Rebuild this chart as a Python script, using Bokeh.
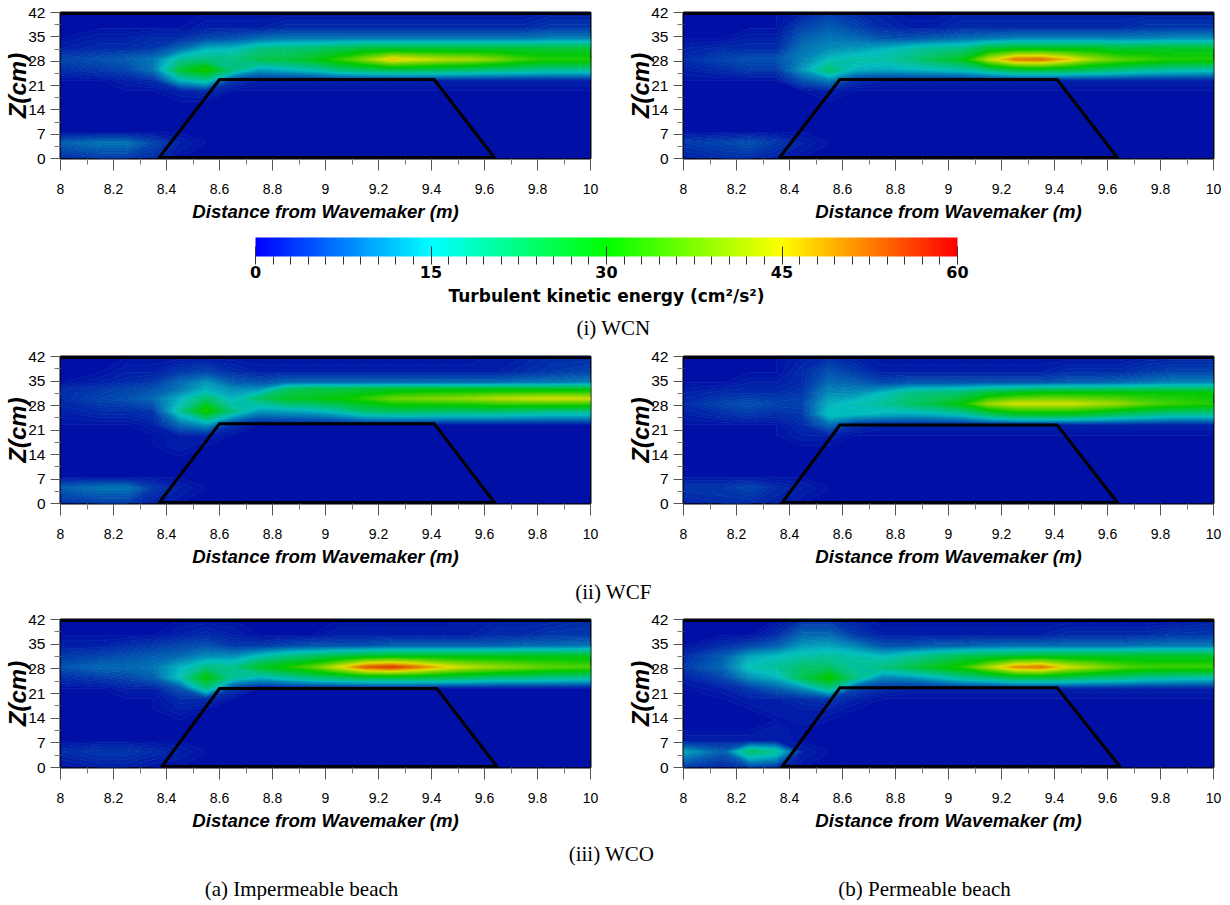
import numpy as np
from bokeh.core.properties import value
from bokeh.embed import file_html
from bokeh.layouts import column, row
from bokeh.models import ColorBar, ColumnDataSource, FixedTicker, Label, LinearColorMapper, NumeralTickFormatter, Range1d
from bokeh.plotting import figure
from bokeh.resources import INLINE

# tick values
x_ticks = [8, 8.2, 8.4, 8.6, 8.8, 9, 9.2, 9.4, 9.6, 9.8, 10]
x_minor = [8.1, 8.3, 8.5, 8.7, 8.9, 9.1, 9.3, 9.5, 9.7, 9.9]
z_ticks = [0, 7, 14, 21, 28, 35, 42]
z_minor = [3.5, 10.5, 17.5, 24.5, 31.5, 38.5]
bar_ticks = [0, 15, 30, 45, 60]
bar_minor = [1.5, 3, 4.5, 6, 7.5, 9, 10.5, 12, 13.5, 16.5, 18, 19.5, 21, 22.5, 24, 25.5, 27, 28.5,
             31.5, 33, 34.5, 36, 37.5, 39, 40.5, 42, 43.5, 46.5, 48, 49.5, 51, 52.5, 54, 55.5, 57, 58.5]

# where the table values below were read
x_nodes = [8, 8.15, 8.25, 8.35, 8.45, 8.55, 8.65, 8.75, 8.85, 8.95,
           9.05, 9.15, 9.25, 9.35, 9.45, 9.55, 9.65, 9.75, 9.85, 10]
z_nodes = [42, 37.5, 34.5, 31.5, 28.5, 25.5, 22.5, 19.5, 16.5, 13.5, 10.5, 7.5, 4.5, 0]
# the WCF impermeable jet sits higher, so its rows were read at other heights
z_nodes_wcf_a = [42, 37.5, 34.5, 32.5, 30, 26.5, 22.5, 19.5, 16.5, 13.5, 10.5, 7.5, 4.5, 0]

# breakwater outline (x in m, z in cm)
wcn_a_x, wcn_a_z = [8.37, 8.6, 9.41, 9.64], [0, 22.7, 22.7, 0]
wcn_b_x, wcn_b_z = [8.36, 8.59, 9.41, 9.64], [0, 22.7, 22.7, 0]
wcf_a_x, wcf_a_z = [8.37, 8.6, 9.41, 9.64], [0, 22.8, 22.8, 0]
wcf_b_x, wcf_b_z = [8.37, 8.59, 9.41, 9.64], [0, 22.4, 22.4, 0]
wco_a_x, wco_a_z = [8.38, 8.6, 9.42, 9.65], [0, 22.4, 22.4, 0]
wco_b_x, wco_b_z = [8.37, 8.59, 9.41, 9.65], [0, 22.6, 22.6, 0]

# turbulent kinetic energy, one row per z node, one column per x node
wcn_a = [
    [1, 1, 1, 1, 1, 1, 1, 1, 1, 1, 1, 1, 1, 1, 1, 1, 1, 1, 2, 2],
    [1, 1, 1, 1, 1, 2, 2, 2, 3, 3, 3, 3, 3, 3, 3, 3, 3, 3, 4, 4],
    [1, 2, 2, 3, 3, 5, 6, 8, 9, 9, 9, 9, 9, 9, 9, 9, 9, 9, 10, 10],
    [2, 3, 3, 4, 8, 14, 15, 20, 21, 22, 24, 26, 26, 26, 26, 26, 26, 26, 26, 26],
    [5, 6, 7, 9, 18, 20, 20, 24, 25, 28, 33, 39, 47, 44, 42, 41, 38, 34, 32, 32],
    [3, 4, 5, 9, 26, 32, 20, 12, 14, 16, 20, 22, 23, 23, 22, 21, 20, 19, 18, 18],
    [1, 1, 2, 3, 14, 18, 4, 2, 2, 2, 2, 2, 2, 2, 2, 2, 2, 2, 2, 2],
    [1, 1, 1, 1, 2, 3, 1, 1, 1, 1, 1, 1, 1, 1, 1, 1, 1, 1, 1, 1],
    [1, 1, 1, 1, 1, 1, 1, 1, 1, 1, 1, 1, 1, 1, 1, 1, 1, 1, 1, 1],
    [1, 1, 1, 1, 1, 1, 1, 1, 1, 1, 1, 1, 1, 1, 1, 1, 1, 1, 1, 1],
    [1, 1, 1, 1, 1, 1, 1, 1, 1, 1, 1, 1, 1, 1, 1, 1, 1, 1, 1, 1],
    [1, 1, 1, 1, 1, 1, 1, 1, 1, 1, 1, 1, 1, 1, 1, 1, 1, 1, 1, 1],
    [7, 9, 9, 5, 2, 1, 1, 1, 1, 1, 1, 1, 1, 1, 1, 1, 1, 1, 1, 1],
    [3, 4, 4, 3, 1, 1, 1, 1, 1, 1, 1, 1, 1, 1, 1, 1, 1, 1, 1, 1],
]
wcn_b = [
    [1, 1, 1, 1, 2, 4, 3, 2, 1, 1, 2, 2, 2, 2, 2, 2, 2, 2, 2, 2],
    [1, 1, 1, 1, 5, 7, 5, 3, 2, 2, 3, 3, 3, 3, 3, 3, 3, 4, 4, 4],
    [1, 1, 2, 2, 7, 9, 8, 6, 6, 7, 8, 9, 10, 10, 10, 10, 10, 10, 11, 11],
    [2, 3, 3, 3, 9, 11, 12, 14, 17, 19, 20, 26, 28, 28, 28, 28, 26, 27, 27, 27],
    [3, 5, 6, 6, 10, 15, 17, 17, 20, 24, 28, 42, 52, 53, 47, 40, 36, 34, 32, 32],
    [2, 3, 4, 4, 12, 22, 14, 13, 14, 15, 16, 20, 24, 25, 24, 22, 20, 18, 17, 16],
    [1, 1, 1, 1, 6, 10, 3, 2, 2, 2, 2, 2, 2, 2, 2, 2, 2, 2, 2, 2],
    [1, 1, 1, 1, 1, 2, 1, 1, 1, 1, 1, 1, 1, 1, 1, 1, 1, 1, 1, 1],
    [1, 1, 1, 1, 1, 1, 1, 1, 1, 1, 1, 1, 1, 1, 1, 1, 1, 1, 1, 1],
    [1, 1, 1, 1, 1, 1, 1, 1, 1, 1, 1, 1, 1, 1, 1, 1, 1, 1, 1, 1],
    [1, 1, 1, 1, 1, 1, 1, 1, 1, 1, 1, 1, 1, 1, 1, 1, 1, 1, 1, 1],
    [1, 1, 1, 1, 1, 1, 1, 1, 1, 1, 1, 1, 1, 1, 1, 1, 1, 1, 1, 1],
    [4, 5, 6, 4, 2, 1, 1, 1, 1, 1, 1, 1, 1, 1, 1, 1, 1, 1, 1, 1],
    [2, 3, 3, 2, 1, 1, 1, 1, 1, 1, 1, 1, 1, 1, 1, 1, 1, 1, 1, 1],
]
wcf_a = [
    [1, 1, 1, 1, 1, 1, 1, 1, 1, 1, 1, 1, 1, 1, 1, 1, 2, 2, 3, 3],
    [1, 1, 2, 2, 4, 5, 3, 2, 2, 2, 2, 2, 2, 2, 2, 2, 2, 3, 4, 5],
    [1, 2, 3, 4, 8, 12, 7, 6, 8, 8, 8, 8, 8, 8, 8, 8, 8, 9, 9, 10],
    [3, 4, 5, 6, 9, 14, 11, 12, 22, 25, 25, 26, 27, 28, 28, 28, 28, 28, 28, 28],
    [3, 5, 6, 8, 14, 22, 14, 22, 27, 28, 30, 33, 37, 38, 39, 40, 42, 43, 44, 43],
    [2, 3, 3, 4, 18, 32, 20, 12, 13, 14, 17, 22, 23, 23, 22, 22, 22, 21, 20, 20],
    [1, 1, 1, 2, 8, 12, 3, 1, 1, 1, 1, 1, 1, 1, 1, 1, 1, 1, 1, 1],
    [1, 1, 1, 1, 2, 2, 1, 1, 1, 1, 1, 1, 1, 1, 1, 1, 1, 1, 1, 1],
    [1, 1, 1, 1, 2, 1, 1, 1, 1, 1, 1, 1, 1, 1, 1, 1, 1, 1, 1, 1],
    [1, 1, 1, 1, 1, 1, 1, 1, 1, 1, 1, 1, 1, 1, 1, 1, 1, 1, 1, 1],
    [1, 1, 1, 1, 1, 1, 1, 1, 1, 1, 1, 1, 1, 1, 1, 1, 1, 1, 1, 1],
    [1, 1, 1, 1, 1, 1, 1, 1, 1, 1, 1, 1, 1, 1, 1, 1, 1, 1, 1, 1],
    [7, 9, 9, 4, 2, 1, 1, 1, 1, 1, 1, 1, 1, 1, 1, 1, 1, 1, 1, 1],
    [3, 4, 4, 2, 1, 1, 1, 1, 1, 1, 1, 1, 1, 1, 1, 1, 1, 1, 1, 1],
]
wcf_b = [
    [1, 1, 1, 1, 2, 3, 2, 1, 1, 1, 1, 1, 1, 1, 1, 1, 1, 2, 2, 2],
    [1, 1, 1, 1, 3, 6, 4, 2, 2, 2, 2, 2, 2, 2, 3, 3, 3, 4, 5, 5],
    [1, 1, 2, 2, 3, 8, 7, 5, 6, 6, 6, 6, 6, 6, 7, 7, 8, 9, 10, 10],
    [2, 3, 3, 3, 4, 11, 11, 15, 20, 21, 22, 26, 28, 30, 30, 30, 30, 30, 30, 30],
    [3, 5, 6, 5, 5, 14, 16, 18, 22, 25, 30, 40, 44, 44, 44, 42, 40, 36, 34, 32],
    [2, 3, 4, 3, 4, 16, 15, 14, 13, 14, 16, 22, 26, 27, 27, 25, 22, 20, 18, 18],
    [1, 1, 1, 1, 3, 8, 3, 2, 2, 2, 2, 2, 2, 2, 2, 2, 2, 2, 2, 2],
    [1, 1, 1, 1, 2, 2, 1, 1, 1, 1, 1, 1, 1, 1, 1, 1, 1, 1, 1, 1],
    [1, 1, 1, 1, 1, 1, 1, 1, 1, 1, 1, 1, 1, 1, 1, 1, 1, 1, 1, 1],
    [1, 1, 1, 1, 1, 1, 1, 1, 1, 1, 1, 1, 1, 1, 1, 1, 1, 1, 1, 1],
    [1, 1, 1, 1, 1, 1, 1, 1, 1, 1, 1, 1, 1, 1, 1, 1, 1, 1, 1, 1],
    [1, 1, 1, 1, 1, 1, 1, 1, 1, 1, 1, 1, 1, 1, 1, 1, 1, 1, 1, 1],
    [4, 4, 5, 3, 2, 1, 1, 1, 1, 1, 1, 1, 1, 1, 1, 1, 1, 1, 1, 1],
    [2, 3, 3, 2, 1, 1, 1, 1, 1, 1, 1, 1, 1, 1, 1, 1, 1, 1, 1, 1],
]
wco_a = [
    [1, 1, 1, 1, 1, 1, 1, 1, 1, 1, 1, 1, 1, 1, 1, 2, 2, 2, 2, 3],
    [1, 1, 1, 1, 2, 3, 2, 1, 1, 1, 2, 2, 2, 2, 2, 2, 3, 3, 4, 4],
    [2, 2, 3, 4, 5, 6, 4, 4, 5, 6, 6, 6, 7, 7, 7, 7, 7, 8, 8, 9],
    [4, 5, 6, 7, 8, 11, 11, 16, 20, 22, 25, 27, 28, 28, 28, 28, 28, 28, 28, 28],
    [6, 8, 8, 9, 14, 20, 19, 27, 31, 36, 44, 54, 57, 52, 46, 42, 40, 38, 36, 35],
    [3, 4, 5, 7, 16, 30, 18, 14, 17, 20, 22, 24, 24, 24, 23, 22, 20, 20, 19, 18],
    [1, 1, 2, 2, 6, 20, 4, 1, 1, 1, 1, 1, 1, 1, 1, 1, 1, 1, 1, 1],
    [1, 1, 1, 1, 3, 3, 1, 1, 1, 1, 1, 1, 1, 1, 1, 1, 1, 1, 1, 1],
    [1, 1, 1, 1, 2, 1, 1, 1, 1, 1, 1, 1, 1, 1, 1, 1, 1, 1, 1, 1],
    [1, 1, 1, 1, 1, 1, 1, 1, 1, 1, 1, 1, 1, 1, 1, 1, 1, 1, 1, 1],
    [1, 1, 1, 1, 1, 1, 1, 1, 1, 1, 1, 1, 1, 1, 1, 1, 1, 1, 1, 1],
    [1, 1, 1, 1, 1, 1, 1, 1, 1, 1, 1, 1, 1, 1, 1, 1, 1, 1, 1, 1],
    [3, 4, 4, 3, 2, 1, 1, 1, 1, 1, 1, 1, 1, 1, 1, 1, 1, 1, 1, 1],
    [1, 2, 2, 1, 1, 1, 1, 1, 1, 1, 1, 1, 1, 1, 1, 1, 1, 1, 1, 1],
]
wco_b = [
    [1, 1, 1, 1, 3, 3, 2, 1, 1, 1, 1, 1, 1, 1, 1, 1, 1, 1, 1, 2],
    [1, 1, 1, 3, 8, 8, 4, 2, 2, 2, 2, 2, 2, 2, 3, 3, 3, 3, 4, 4],
    [1, 3, 5, 7, 12, 13, 10, 6, 6, 7, 7, 8, 8, 8, 8, 8, 8, 9, 9, 9],
    [3, 7, 13, 15, 17, 18, 17, 15, 18, 21, 24, 25, 26, 27, 27, 27, 27, 27, 27, 27],
    [4, 8, 16, 18, 22, 22, 18, 20, 24, 28, 32, 41, 50, 52, 44, 40, 36, 34, 34, 34],
    [2, 5, 11, 14, 24, 31, 20, 10, 11, 14, 18, 20, 24, 24, 23, 21, 20, 18, 17, 16],
    [1, 2, 4, 7, 11, 20, 5, 3, 2, 2, 2, 2, 2, 2, 2, 2, 2, 2, 2, 2],
    [1, 1, 2, 2, 3, 4, 2, 1, 1, 1, 1, 1, 1, 1, 1, 1, 1, 1, 1, 1],
    [1, 1, 1, 2, 2, 2, 1, 1, 1, 1, 1, 1, 1, 1, 1, 1, 1, 1, 1, 1],
    [1, 1, 1, 1, 2, 1, 1, 1, 1, 1, 1, 1, 1, 1, 1, 1, 1, 1, 1, 1],
    [1, 1, 1, 2, 1, 1, 1, 1, 1, 1, 1, 1, 1, 1, 1, 1, 1, 1, 1, 1],
    [2, 2, 2, 2, 1, 1, 1, 1, 1, 1, 1, 1, 1, 1, 1, 1, 1, 1, 1, 1],
    [13, 7, 22, 18, 2, 1, 1, 1, 1, 1, 1, 1, 1, 1, 1, 1, 1, 1, 1, 1],
    [4, 2, 4, 3, 1, 1, 1, 1, 1, 1, 1, 1, 1, 1, 1, 1, 1, 1, 1, 1],
]

x_title = "Distance from Wavemaker (m)"
z_title = "Z(cm)"
bar_title = "Turbulent kinetic energy (cm\u00b2/s\u00b2)"


def ramp(stops, n):
    # colour scale between anchor colours
    stops = np.array(stops, dtype=float)
    pos = np.linspace(0, len(stops) - 1, n)
    rgb = np.array([np.interp(pos, np.arange(len(stops)), stops[:, c]) for c in range(3)]).T
    return ["#%02x%02x%02x" % tuple(int(round(v)) for v in c) for c in rgb]


# the plots come out darker than the colour bar itself
field_stops = [(0, 10, 165), (0, 190, 190), (0, 200, 0), (225, 225, 0), (225, 15, 0)]
bar_stops = [(0, 0, 255), (0, 255, 255), (0, 255, 0), (255, 255, 0), (255, 0, 0)]
levels = list(np.arange(0, 60.5, 0.5))
bar_mapper = LinearColorMapper(palette=ramp(bar_stops, 256), low=0, high=60)


def panel(field, bx, bz, width, height, left, right, top, z_at=z_nodes):
    p = figure(width=width, height=height, output_backend="svg", toolbar_location=None,
               x_range=Range1d(8, 10), y_range=Range1d(0, 42),
               min_border_left=left, min_border_right=right, min_border_top=top, min_border_bottom=68)
    p.contour(x_nodes, z_at[::-1], np.array(field, dtype=float)[::-1], levels,
              fill_color=ramp(field_stops, len(levels) - 1), line_color=ramp(field_stops, len(levels)), line_width=1)
    p.line(bx, bz, line_color="black", line_width=3, line_join="miter")
    p.segment(bx[0], 0, bx[-1], 0, line_color="black", line_width=5)
    p.segment(8, 42, 10, 42, line_color="black", line_width=5)
    p.grid.visible = False
    p.outline_line_color = "black"
    p.outline_line_width = 2

    p.xaxis.ticker = FixedTicker(ticks=x_ticks, minor_ticks=x_minor)
    p.xaxis.formatter = NumeralTickFormatter(format="0.[0]")
    p.yaxis.ticker = FixedTicker(ticks=z_ticks, minor_ticks=z_minor)
    p.xaxis.axis_label = x_title
    p.yaxis.axis_label = z_title
    for ax in (p.xaxis, p.yaxis):
        ax.axis_line_color = None
        ax.major_tick_line_color = "#555555"
        ax.minor_tick_line_color = "#777777"
        ax.major_tick_in = 0
        ax.minor_tick_in = 0
        ax.major_label_text_font = "Liberation Sans"
        ax.major_label_text_color = "black"
        ax.axis_label_text_font = "Liberation Sans"
        ax.axis_label_text_font_style = "bold italic"
        ax.axis_label_text_color = "black"
    p.xaxis.major_tick_out = 12
    p.xaxis.minor_tick_out = 6
    p.xaxis.major_label_standoff = 13
    p.xaxis.major_label_text_font_size = "14px"
    p.xaxis.axis_label_text_font_size = "18.6px"
    p.xaxis.axis_label_standoff = 4
    p.yaxis.major_tick_out = 10
    p.yaxis.minor_tick_out = 6
    p.yaxis.major_label_standoff = 5
    p.yaxis.major_label_text_font_size = "15.5px"
    p.yaxis.axis_label_text_font_size = "24px"
    p.yaxis.axis_label_standoff = -6
    return p


def caption_fig(height, xs, ys, texts):
    # x and y here are page pixels, y counted up from the strip's bottom
    p = figure(width=1222, height=height, output_backend="svg", toolbar_location=None,
               x_range=Range1d(0, 1222), y_range=Range1d(0, height),
               min_border=0, outline_line_color=None)
    p.axis.visible = False
    p.grid.visible = False
    p.text(x="x", y="y", text="text", source=ColumnDataSource(dict(x=xs, y=ys, text=texts)),
           text_font=value("Liberation Serif"), text_font_size="21px", text_color="black",
           text_align="center", text_baseline="middle")
    return p


row1 = row(panel(wcn_a, wcn_a_x, wcn_a_z, 608, 226, 60, 18, 12),
           panel(wcn_b, wcn_b_x, wcn_b_z, 614, 226, 75, 9, 12), spacing=0)

mid = caption_fig(119, [613], [18], ["(i) WCN"])
bar = ColorBar(color_mapper=bar_mapper, orientation="horizontal", width=702, height=19, location=(255, 65),
               ticker=FixedTicker(ticks=bar_ticks, minor_ticks=bar_minor), padding=0, margin=0,
               major_tick_line_color="#333333", minor_tick_line_color="#333333",
               major_tick_in=10, minor_tick_out=8, major_tick_out=8, label_standoff=1,
               major_label_text_font="DejaVu Sans", major_label_text_font_style="bold",
               major_label_text_font_size="16px", major_label_text_color="black",
               background_fill_color=None, border_line_color=None, bar_line_color=None)
mid.add_layout(bar)
mid.add_layout(Label(x=606, y=50, x_units="data", y_units="data", text=bar_title, text_font="DejaVu Sans",
                     text_font_style="bold", text_font_size="17px", text_color="black",
                     text_align="center", text_baseline="middle"))

row2 = row(panel(wcf_a, wcf_a_x, wcf_a_z, 608, 226, 60, 18, 11, z_nodes_wcf_a),
           panel(wcf_b, wcf_b_x, wcf_b_z, 614, 226, 75, 9, 11), spacing=0)

cap2 = caption_fig(40, [613], [20], ["(ii) WCF"])

row3 = row(panel(wco_a, wco_a_x, wco_a_z, 608, 224, 60, 18, 8),
           panel(wco_b, wco_b_x, wco_b_z, 614, 224, 75, 9, 8), spacing=0)

cap3 = caption_fig(65, [611, 301, 924], [47, 12, 12],
                   ["(iii) WCO", "(a) Impermeable beach", "(b) Permeable beach"])

page = column(row1, mid, row2, cap2, row3, cap3, spacing=0)

open("out.html", "w").write(file_html(page, INLINE))
